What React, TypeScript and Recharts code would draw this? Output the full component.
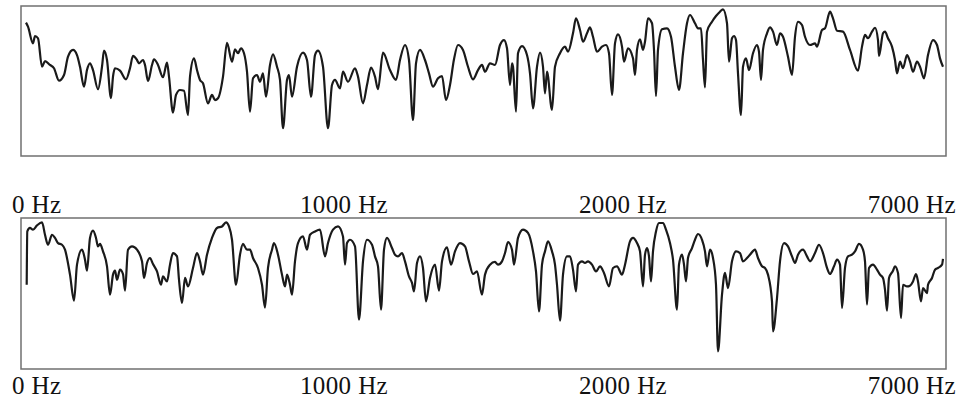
import React from 'react';
import { LineChart, Line, XAxis, YAxis, ReferenceArea } from 'recharts';

// Spectrum 1 (upper panel): frequency bin vs. relative level
const topBins = [5, 7, 12, 14, 17, 21, 24, 29, 33, 38, 43, 47, 52, 56, 59, 63, 66, 69, 72, 77, 81, 83, 86, 90, 92, 94, 99, 105, 109, 112, 116, 118, 122, 124, 127, 131, 133, 137, 142, 146, 148, 152, 155, 159, 163, 167, 169, 173, 176, 179, 182, 187, 191, 194, 197, 202, 206, 211, 214, 217, 220, 223, 226, 229, 232, 236, 239, 242, 245, 249, 252, 256, 259, 262, 266, 268, 271, 276, 282, 286, 290, 294, 297, 302, 307, 311, 314, 319, 322, 327, 334, 337, 342, 346, 350, 354, 357, 362, 369, 375, 379, 384, 388, 392, 395, 399, 404, 408, 412, 417, 421, 425, 429, 433, 437, 442, 447, 452, 457, 461, 464, 469, 474, 479, 483, 486, 489, 491, 492, 495, 497, 501, 506, 509, 512, 516, 519, 522, 524, 526, 531, 534, 539, 544, 547, 552, 555, 559, 562, 566, 569, 572, 576, 581, 585, 588, 591, 594, 597, 601, 603, 607, 612, 614, 616, 619, 622, 624, 627, 631, 633, 635, 637, 641, 646, 650, 654, 658, 662, 666, 669, 674, 677, 680, 682, 684, 686, 691, 695, 699, 702, 706, 708, 711, 713, 715, 717, 720, 722, 725, 728, 732, 736, 738, 740, 742, 746, 749, 752, 756, 759, 762, 767, 771, 774, 777, 781, 784, 789, 794, 796, 801, 804, 809, 812, 816, 822, 829, 837, 841, 844, 847, 851, 854, 857, 858, 862, 864, 867, 871, 874, 876, 879, 882, 886, 889, 892, 896, 899, 903, 907, 912, 916, 919, 922];
const topLevels = [88.9, 86.2, 75.1, 80, 78.5, 59.5, 63.3, 60.7, 58.5, 50.2, 54, 66.2, 70.7, 67.3, 59.5, 46.2, 57.3, 61.8, 57.3, 44.5, 59.5, 70.2, 64, 38.5, 52.9, 58.5, 56.9, 51.1, 58.5, 66.7, 64, 61.8, 64, 60.7, 50, 60.7, 64.5, 60.7, 52.5, 62.2, 52.9, 28.9, 40.7, 44, 43.5, 27.3, 52.9, 65.1, 57.3, 50.7, 48.5, 35.1, 40.7, 37.3, 38.5, 52.9, 75.5, 62.9, 71.1, 68.5, 71.8, 68.5, 56.2, 29.5, 51.8, 54, 49.5, 55.1, 39.5, 60.7, 67.8, 59.5, 50.7, 18.5, 50.7, 54, 39.5, 59.5, 68.9, 64, 39.5, 67.3, 70.2, 59.5, 18.5, 47.3, 50.7, 45.1, 56.2, 49.5, 58.5, 52.9, 35.1, 47.3, 58.9, 52.9, 44.5, 68.9, 57.3, 50.7, 64, 74, 64, 24, 61.8, 70.7, 64, 55.1, 46.2, 51.8, 53.3, 37.3, 47.3, 64.5, 74, 70.7, 59.5, 51.1, 57.3, 60.7, 56.2, 61.8, 60.7, 74, 77.3, 71.8, 47.3, 61.8, 59.5, 29.5, 68.5, 73.3, 67.3, 55.1, 31.8, 59.5, 68.9, 59.5, 41.8, 56.2, 30.7, 59.5, 68.5, 72.9, 69.5, 81.8, 91.8, 84, 76.2, 81.8, 85.8, 79.5, 69.5, 72.9, 74, 68.5, 40.7, 75.1, 81.1, 72.9, 62.9, 71.8, 65.1, 54, 70.7, 77.8, 70.7, 76.2, 91.8, 88.5, 70.7, 40, 70.7, 84.5, 85.1, 79.5, 59.5, 44, 68.5, 88.5, 94, 88.5, 85.1, 85.1, 64, 45.8, 82.9, 89.5, 93.3, 96.2, 97.8, 88.5, 62.9, 78.5, 80, 77.3, 55.1, 27.3, 59.5, 65.1, 57.3, 68.5, 74, 69.5, 50.7, 70.7, 81.8, 85.8, 82.9, 74, 81.8, 79.5, 66.2, 54, 79.5, 89.5, 87.3, 79.5, 74, 75.1, 72.9, 84, 85.1, 96.2, 91.8, 83.5, 82.9, 70.7, 56.9, 72.9, 80.7, 78.5, 82.9, 85.5, 77.3, 66.7, 81.8, 82.9, 78.5, 72.9, 64, 55.1, 62.9, 58.5, 67.3, 62.9, 56.2, 62.9, 59.5, 51.8, 67.3, 77.3, 74, 65.1, 59.5];

// Spectrum 2 (lower panel)
const bottomBins = [5.7, 6.3, 9, 12, 16, 21, 24, 27, 31, 34, 37, 41, 44, 49, 53, 56, 61, 64, 66, 69, 72, 75, 77, 79, 82, 86, 89, 92, 94, 96, 99, 102, 104, 107, 111, 116, 121, 123, 126, 129, 132, 136, 140, 142, 146, 149, 152, 156, 158, 161, 164, 167, 172, 176, 179, 182, 186, 191, 196, 201, 205, 208, 211, 215, 219, 222, 226, 229, 232, 237, 241, 244, 247, 251, 253, 257, 261, 264, 266, 269, 271, 274, 277, 282, 286, 289, 294, 299, 304, 307, 312, 317, 322, 324, 326, 329, 334, 338, 342, 346, 351, 354, 357, 360, 363, 366, 371, 374, 377, 381, 384, 388, 391, 393, 396, 399, 402, 405, 409, 414, 418, 421, 426, 430, 434, 439, 444, 448, 452, 456, 461, 464, 469, 474, 477, 481, 484, 487, 491, 493, 497, 502, 507, 512, 515, 518, 521, 524, 527, 531, 534, 536, 539, 542, 546, 549, 552, 555, 557, 561, 564, 567, 571, 575, 579, 583, 588, 592, 596, 601, 604, 609, 612, 616, 619, 622, 624, 626, 628, 630, 632, 635, 638, 642, 645, 649, 652, 656, 658, 661, 663, 665, 667, 671, 674, 677, 681, 684, 686, 689, 692, 695, 697, 701, 704, 707, 711, 715, 719, 722, 726, 729, 734, 737, 741, 744, 747, 751, 752, 756, 759, 763, 767, 771, 774, 777, 782, 786, 789, 794, 798, 802, 806, 809, 813, 816, 819, 821, 824, 827, 831, 834, 838, 842, 844, 846, 848, 852, 856, 859, 862, 864, 866, 868, 872, 874, 877, 880, 882, 886, 889, 892, 895, 897, 900, 902, 906, 907, 911, 914, 917, 921, 922];
const bottomLevels = [55.8, 91.1, 93.4, 92.3, 95.1, 97.1, 88.9, 82.3, 88.9, 86.8, 83.4, 82.3, 79, 62.5, 45.2, 69.1, 79, 72.4, 65.1, 86.8, 91.6, 86.8, 81.2, 82.8, 77.9, 68, 49.2, 62.5, 65.1, 59.1, 65.8, 62.9, 51.9, 79, 81.2, 79, 71.3, 60.3, 70.2, 73.5, 69.5, 64.6, 55.8, 61.3, 58, 69.1, 76.8, 74.6, 59.1, 43.7, 60.3, 54.7, 66.9, 76.8, 71.3, 62.5, 75.7, 86.8, 93.4, 94.4, 97.1, 94.4, 85.6, 55.8, 75.7, 82.8, 79, 79, 73.5, 66.9, 55.8, 40.7, 66.9, 79, 83.4, 75.7, 62.5, 54.7, 62.5, 55.8, 49.2, 71.3, 83.4, 87.8, 79, 88.9, 91.1, 92.3, 74.6, 83.4, 92.3, 94.4, 87.8, 69.1, 83.4, 85.6, 81.2, 32.7, 71.3, 85.6, 82.3, 74.6, 68, 39.3, 79, 86.8, 80.1, 75.7, 74.6, 76.8, 71.3, 61.3, 57, 51.4, 70.2, 74.6, 66.9, 44.8, 60.3, 69.1, 51.9, 71.3, 80.5, 69.1, 77.9, 83.4, 81.2, 71.3, 62.9, 64.6, 49.2, 62.5, 69.1, 70.9, 69.1, 71.3, 76.8, 84.1, 79, 69.1, 86.8, 92.3, 90.1, 77.9, 64.6, 38.1, 69.1, 77.9, 84.5, 77.9, 69.1, 55.8, 32, 62.5, 74.6, 74.6, 65.8, 51.4, 69.1, 71.3, 70.2, 71.3, 69.1, 64.6, 68, 63.6, 54.7, 66.9, 68, 62.5, 69.1, 84.5, 86.8, 83.4, 77.9, 54.7, 75.7, 80.1, 74.6, 58, 77.9, 91.1, 96.7, 96.7, 92.3, 83.4, 72.4, 39.3, 69.1, 75.7, 69.1, 58, 73.5, 80.1, 85.6, 89.4, 85.6, 77.9, 68, 79, 73.5, 55.8, 11.7, 49.2, 63.6, 53.6, 71.3, 77.9, 76.8, 71.3, 73.5, 75.7, 79, 73.5, 68, 66.9, 62.5, 44.8, 24.9, 47, 71.3, 83.4, 81.2, 74.6, 70.2, 75.7, 79, 74.6, 71.3, 76.8, 82.3, 76.8, 66.9, 62.9, 68, 72.4, 69.1, 40.4, 66.9, 74.6, 75.7, 77.9, 82.8, 79, 71.3, 42.6, 66.9, 69.1, 65.8, 62.5, 60.3, 52.5, 38.6, 60.3, 65.1, 68, 63.6, 33.8, 55.8, 54.7, 55.2, 58, 62.9, 58, 44.8, 53.6, 50.3, 55.8, 60.3, 65.8, 66.9, 69.1, 73];

const tickBins = [0, 323, 602, 925];
const tickLabels = ['0 Hz', '1000 Hz', '2000 Hz', '7000 Hz'];

const topData = topBins.map((b, i) => ({ bin: b, level: topLevels[i] }));
const bottomData = bottomBins.map((b, i) => ({ bin: b, level: bottomLevels[i] }));

const FONT = "'Liberation Serif', 'Times New Roman', Times, serif";

const makeTick = (dy: number) => (props: any) => {
  const { x, y, index } = props;
  const last = tickLabels.length - 1;
  const anchor = index === 0 ? 'start' : index === last ? 'end' : 'middle';
  const dx = index === 0 ? -9 : index === last ? 10 : 0;
  return (
    <text
      x={x + dx}
      y={y + dy}
      textAnchor={anchor}
      style={{ fontFamily: FONT, fontSize: 25, letterSpacing: 0.4 }}
      fill="#111"
    >
      {tickLabels[index]}
    </text>
  );
};

const TopTick = makeTick(2.7);
const BottomTick = makeTick(16.7);

export default function App() {
  return (
    <div style={{ position: 'absolute', left: 0, top: 0, width: 961, height: 402, background: '#fff', overflow: 'hidden' }}>
      <div style={{ position: 'absolute', left: 0, top: 0 }}>
        <LineChart width={961} height={160} data={topData} margin={{ top: 6, right: 15, bottom: 4, left: 21 }}>
          <XAxis type="number" dataKey="bin" domain={[0, 925]} hide />
          <YAxis type="number" domain={[0, 100]} hide />
          <ReferenceArea x1={0} x2={925} y1={0} y2={100} fill="none" stroke="#707070" strokeWidth={1.5} />
          <Line type="monotone" dataKey="level" stroke="#1a1a1a" strokeWidth={2.2} dot={false} isAnimationActive={false} />
        </LineChart>
      </div>
      <div style={{ position: 'absolute', left: 0, top: 160 }}>
        <LineChart width={961} height={242} data={bottomData} margin={{ top: 57, right: 15, bottom: 32, left: 21 }}>
          <XAxis
            xAxisId="b"
            type="number"
            dataKey="bin"
            domain={[0, 925]}
            ticks={tickBins}
            interval={0}
            height={1}
            orientation="bottom"
            axisLine={false}
            tickLine={false}
            tick={BottomTick}
          />
          <XAxis
            xAxisId="t"
            type="number"
            dataKey="bin"
            domain={[0, 925]}
            ticks={tickBins}
            interval={0}
            height={1}
            orientation="top"
            axisLine={false}
            tickLine={false}
            tick={TopTick}
          />
          <YAxis type="number" domain={[0, 100]} hide />
          <ReferenceArea xAxisId="b" x1={0} x2={925} y1={0} y2={100} fill="none" stroke="#707070" strokeWidth={1.5} />
          <Line xAxisId="b" type="monotone" dataKey="level" stroke="#1a1a1a" strokeWidth={2.2} dot={false} isAnimationActive={false} />
        </LineChart>
      </div>
    </div>
  );
}
